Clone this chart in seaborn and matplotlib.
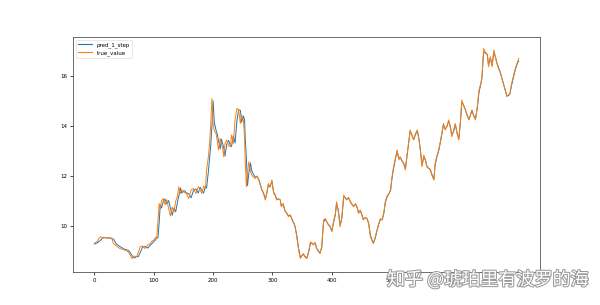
import matplotlib
matplotlib.use("Agg")
import matplotlib.pyplot as plt
import matplotlib.patheffects as pe
import seaborn as sns
import pandas as pd

# time step indices
steps = [0, 5, 10, 15, 20, 25, 29, 32, 37, 43, 50, 57, 60, 63, 67, 71, 74, 77, 81, 85,
         90, 94, 97, 100, 103, 105, 107, 109, 111, 113, 116, 119, 122, 125, 128, 131, 134, 137, 140, 142,
         145, 147, 151, 155, 159, 163, 167, 171, 175, 178, 181, 184, 187, 189, 192, 194, 196, 198, 200, 202,
         205, 207, 209, 212, 214, 216, 218, 220, 223, 226, 229, 231, 234, 237, 240, 243, 246, 248, 251, 253,
         254, 256, 258, 260, 263, 265, 268, 271, 274, 277, 280, 282, 285, 288, 291, 293, 296, 299, 302, 305,
         307, 310, 313, 315, 318, 321, 324, 327, 330, 333, 336, 338, 341, 344, 347, 349, 352, 355, 358, 361,
         364, 367, 369, 372, 374, 377, 380, 383, 386, 389, 391, 394, 397, 400, 403, 406, 408, 411, 414, 417,
         420, 423, 425, 428, 431, 434, 437, 440, 443, 445, 448, 451, 453, 456, 459, 462, 465, 468, 470, 473,
         476, 479, 482, 485, 488, 490, 493, 496, 499, 501, 504, 507, 510, 513, 515, 518, 521, 524, 527, 530,
         532, 535, 538, 541, 544, 547, 549, 552, 555, 558, 560, 563, 566, 569, 572, 574, 577, 580, 583, 586,
         588, 591, 594, 597, 600, 602, 605, 608, 611, 614, 617, 619, 622, 625, 628, 631, 634, 636, 639, 642,
         645, 648, 651, 653, 655, 656, 659, 662, 664, 667, 670, 673, 676, 678, 681, 684, 687, 690, 692, 695,
         698, 700, 703, 707, 710, 713, 715]

true_value = [9.31, 9.40, 9.57, 9.52, 9.55, 9.50, 9.52, 9.30, 9.20, 9.10, 9.05, 8.97, 8.85, 8.70, 8.80, 8.77, 8.95, 9.17, 9.20, 9.10,
              9.25, 9.30, 9.40, 9.44, 9.55, 9.50, 10.20, 10.90, 10.70, 11.00, 11.10, 10.85, 11.05, 10.70, 10.40, 10.75, 10.55, 11.00, 11.20, 11.57,
              11.30, 11.44, 11.35, 11.30, 11.10, 11.45, 11.50, 11.30, 11.57, 11.45, 11.30, 11.60, 11.50, 12.24, 12.77, 13.30, 14.10, 15.10, 14.10, 13.80,
              13.70, 13.40, 13.04, 13.50, 13.30, 13.10, 12.77, 13.30, 13.44, 13.20, 13.17, 13.64, 13.30, 14.24, 14.70, 14.64, 14.10, 14.44, 14.24, 13.50,
              12.64, 11.57, 12.10, 12.57, 12.20, 12.04, 11.95, 11.90, 12.00, 11.84, 11.60, 11.44, 11.30, 11.04, 11.40, 11.70, 11.55, 11.84, 11.30, 11.20,
              11.04, 11.10, 11.04, 10.77, 10.90, 10.60, 10.50, 10.37, 10.45, 10.24, 10.10, 9.97, 9.57, 9.04, 8.70, 8.80, 8.90, 8.75, 8.70, 9.00,
              9.37, 9.30, 9.24, 9.35, 9.10, 9.00, 8.90, 9.17, 10.24, 10.30, 10.17, 10.05, 9.97, 9.77, 10.20, 10.50, 10.97, 10.57, 9.97, 10.37,
              11.24, 11.10, 11.04, 11.15, 10.97, 10.85, 10.77, 10.90, 10.70, 10.50, 10.64, 10.40, 10.24, 10.35, 10.30, 10.10, 9.57, 9.40, 9.30, 9.55,
              9.84, 10.10, 10.30, 10.24, 10.60, 10.97, 11.20, 11.30, 11.44, 11.90, 12.37, 12.70, 13.04, 12.64, 12.77, 12.60, 12.50, 12.24, 12.90, 13.44,
              13.84, 13.60, 13.44, 13.70, 13.84, 13.40, 13.04, 12.37, 12.84, 12.60, 12.37, 12.30, 12.24, 12.00, 11.84, 12.50, 12.80, 13.04, 13.40, 13.80,
              14.10, 13.84, 14.00, 14.24, 13.90, 13.57, 13.80, 14.10, 13.70, 13.44, 14.30, 15.04, 14.80, 14.64, 14.40, 14.24, 14.50, 14.64, 14.40, 14.24,
              14.77, 15.44, 15.70, 15.97, 16.80, 17.10, 16.90, 16.84, 16.37, 16.77, 16.37, 17.04, 16.70, 16.50, 16.30, 16.10, 15.84, 15.60, 15.44, 15.17,
              15.25, 15.30, 15.70, 16.10, 16.37, 16.57, 16.70]

pred_1_step = [9.28, 9.33, 9.42, 9.55, 9.52, 9.53, 9.50, 9.48, 9.28, 9.18, 9.08, 9.03, 8.95, 8.83, 8.72, 8.78, 8.78, 8.93, 9.15, 9.18,
               9.12, 9.23, 9.30, 9.38, 9.45, 9.53, 9.52, 10.10, 10.85, 10.72, 10.98, 11.08, 10.88, 11.02, 10.72, 10.43, 10.72, 10.57, 10.97, 11.18,
               11.52, 11.32, 11.42, 11.33, 11.28, 11.13, 11.43, 11.48, 11.32, 11.55, 11.43, 11.32, 11.58, 11.52, 12.18, 12.72, 13.22, 14.00, 15.00, 14.15,
               13.82, 13.68, 13.42, 13.08, 13.47, 13.30, 13.12, 12.80, 13.27, 13.42, 13.22, 13.18, 13.60, 13.32, 14.18, 14.65, 14.62, 14.15, 14.40, 14.25,
               13.55, 12.70, 11.62, 12.08, 12.52, 12.22, 12.06, 11.96, 11.98, 11.86, 11.62, 11.46, 11.32, 11.08, 11.36, 11.66, 11.57, 11.80, 11.35, 11.22,
               11.07, 11.08, 11.05, 10.80, 10.88, 10.62, 10.52, 10.40, 10.44, 10.27, 10.12, 10.00, 9.62, 9.10, 8.74, 8.78, 8.88, 8.78, 8.72, 8.96,
               9.32, 9.31, 9.26, 9.33, 9.13, 9.02, 8.92, 9.14, 10.15, 10.28, 10.19, 10.07, 9.99, 9.80, 10.15, 10.46, 10.92, 10.62, 10.03, 10.33,
               11.18, 11.12, 11.06, 11.13, 10.99, 10.87, 10.79, 10.88, 10.72, 10.53, 10.62, 10.43, 10.27, 10.33, 10.31, 10.13, 9.63, 9.43, 9.32, 9.50,
               9.80, 10.06, 10.27, 10.25, 10.55, 10.92, 11.16, 11.28, 11.42, 11.84, 12.30, 12.66, 13.00, 12.70, 12.75, 12.62, 12.52, 12.28, 12.84, 13.38,
               13.80, 13.63, 13.46, 13.66, 13.82, 13.46, 13.08, 12.44, 12.78, 12.63, 12.40, 12.31, 12.26, 12.03, 11.87, 12.44, 12.76, 13.00, 13.36, 13.75,
               14.06, 13.87, 13.98, 14.20, 13.94, 13.62, 13.76, 14.06, 13.74, 13.48, 14.22, 14.96, 14.83, 14.66, 14.43, 14.26, 14.46, 14.62, 14.43, 14.27,
               14.70, 15.36, 15.66, 15.93, 16.70, 16.95, 16.93, 16.85, 16.43, 16.72, 16.42, 16.96, 16.74, 16.53, 16.33, 16.13, 15.88, 15.63, 15.47, 15.20,
               15.22, 15.28, 15.64, 16.04, 16.32, 16.52, 16.60]

df = pd.concat([
    pd.DataFrame({"step": steps, "value": pred_1_step, "series": "pred_1_step"}),
    pd.DataFrame({"step": steps, "value": true_value, "series": "true_value"}),
])

fig = plt.figure(figsize=(6.0, 3.05), dpi=100)
ax = fig.add_subplot(111)
fig.subplots_adjust(left=0.122, right=0.9, top=0.879, bottom=0.108)

sns.lineplot(data=df, x="step", y="value", hue="series",
             palette={"pred_1_step": "#1f77b4", "true_value": "#ff7f0e"},
             linewidth=0.7, ax=ax)

ax.set_xlabel("")
ax.set_ylabel("")
ax.set_xticks([0, 100, 200, 300, 400, 500, 600, 700])
ax.set_yticks([10, 12, 14, 16])
ax.set_ylim(8.16, 17.56)
ax.tick_params(labelsize=4, length=2, width=0.5, pad=2)
for s in ax.spines.values():
    s.set_linewidth(0.5)
    s.set_color("#333333")

leg = ax.legend(loc="upper left", fontsize=4, frameon=True, handlelength=2.5)
leg.get_frame().set_linewidth(0.4)
for l in leg.get_lines():
    l.set_linewidth(0.8)

fig.text(0.645, 0.065, "知乎 @琥珀里有波罗的海", fontsize=13,
         family=["Noto Sans CJK SC", "DejaVu Sans"], color="white",
         path_effects=[pe.withStroke(linewidth=1.5, foreground="#9a9a9a")])

fig.savefig("out.png", dpi=100)
